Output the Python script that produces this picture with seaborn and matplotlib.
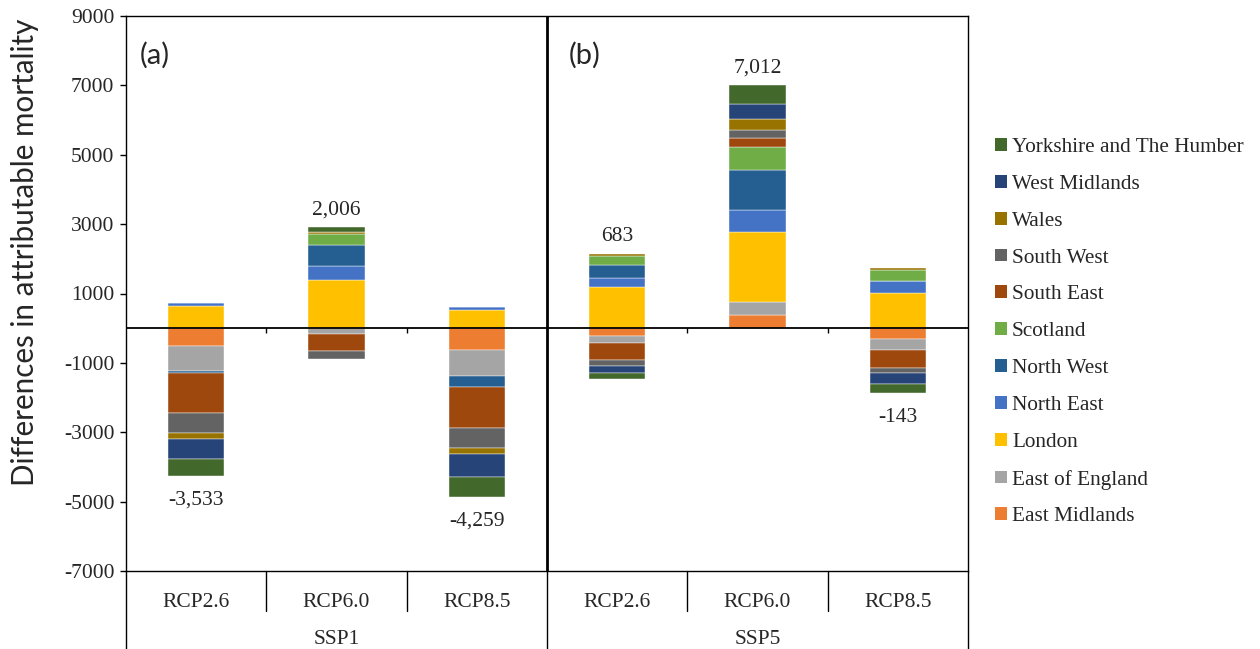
import numpy as np
import pandas as pd
import matplotlib
matplotlib.use("Agg")
import matplotlib.pyplot as plt
import matplotlib.transforms as mtransforms
from matplotlib.patches import Patch
import seaborn as sns

# Scenario combinations (SSP x RCP) shown along the category axis
ssps = ["SSP1", "SSP5"]
rcps = ["RCP2.6", "RCP6.0", "RCP8.5"]
scenarios = [f"{s} {r}" for s in ssps for r in rcps]

# Regions in stacking order (first series sits next to the zero line)
regions = [
    "East Midlands", "East of England", "London", "North East", "North West",
    "Scotland", "South East", "South West", "Wales", "West Midlands",
    "Yorkshire and The Humber",
]
colors = [
    "#ED7D31", "#A5A5A5", "#FFC000", "#4472C4", "#255E91",
    "#70AD47", "#9E480E", "#636363", "#997300", "#264478", "#43682B",
]

# Differences in attributable mortality per region, one value per scenario
east_midlands   = [-500,    0, -617, -212,  376, -318]
east_of_england = [-722, -173, -751, -222,  385, -297]
london          = [ 635, 1400,  510, 1175, 2022, 1021]
north_east      = [  80,  390,   96,  270,  617,  337]
north_west      = [ -70,  617, -327,  366, 1156,    0]
scotland        = [   0,  320,    0,  260,  655,  318]
south_east      = [-1140, -482, -1175, -482, 270, -520]
south_west      = [-598, -246, -588, -173,  231, -154]
wales           = [-155,   60, -173,   67,  318,   48]
west_midlands   = [-582,    0, -665, -212,  443, -308]
yorkshire       = [-481,  120, -569, -154,  539, -270]

series = [east_midlands, east_of_england, london, north_east, north_west,
          scotland, south_east, south_west, wales, west_midlands, yorkshire]

sns.set_style("ticks")
plt.rcParams["font.family"] = ["Liberation Serif", "DejaVu Serif"]
plt.rcParams["axes.unicode_minus"] = False

W, H = 1260, 649
fig = plt.figure(figsize=(W / 100, H / 100), dpi=100)
left, right, top, bottom = 126, 968, 16, 571
ax = fig.add_axes([left / W, 1 - bottom / H, (right - left) / W, (bottom - top) / H])

pos_base = np.zeros(len(scenarios))
neg_base = np.zeros(len(scenarios))
for name, vals, col in zip(regions, series, colors):
    vals = np.asarray(vals, dtype=float)
    base = np.where(vals >= 0, pos_base, neg_base)
    df = pd.DataFrame({"scenario": scenarios, "value": vals})
    sns.barplot(data=df, x="scenario", y="value", order=scenarios,
                color=col, saturation=1, width=0.4, errorbar=None,
                bottom=base, edgecolor="white", linewidth=0.3, ax=ax)
    pos_base += np.clip(vals, 0, None)
    neg_base += np.clip(vals, None, 0)

totals = np.sum(np.array(series), axis=0).astype(int)

ax.set_ylim(-7000, 9000)
ax.set_xlim(-0.5, len(scenarios) - 0.5)
ax.set_yticks(np.arange(-7000, 9001, 2000))
ax.tick_params(axis="y", direction="out", length=4.3, width=1, labelsize=15.5,
               color="black", pad=4)
ax.tick_params(axis="x", length=0, labelbottom=False)
ax.set_xlabel("")
ax.set_ylabel("")
for sp in ax.spines.values():
    sp.set_visible(True)
    sp.set_color("black")
    sp.set_linewidth(1.0)

# zero line, panel divider and small category ticks on the zero line
ax.axhline(0, color="black", lw=1.3, zorder=5)
ax.axvline(2.5, color="black", lw=2.0, zorder=6)
ax.vlines([0.5, 1.5, 3.5, 4.5], -150, 0, color="black", lw=1.0, zorder=5)

# total labels at the end of each bar
for i, t in enumerate(totals):
    if t >= 0:
        ax.annotate(f"{t:,}", (i, pos_base[i]), xytext=(0, 12.5),
                    textcoords="offset points", ha="center", va="center",
                    fontsize=15.5)
    else:
        ax.annotate(f"{t:,}", (i, neg_base[i]), xytext=(0, -17.5),
                    textcoords="offset points", ha="center", va="center",
                    fontsize=15.5)

# panel letters
ax.text(0.0344, 0.93, "(a)", transform=ax.transAxes, ha="center", va="center",
        fontsize=21, family=["Lato", "DejaVu Sans"])
ax.text(0.545, 0.93, "(b)", transform=ax.transAxes, ha="center", va="center",
        fontsize=21, family=["Lato", "DejaVu Sans"])

# two-level category axis
trans = mtransforms.blended_transform_factory(ax.transData, ax.transAxes)
y_short = (bottom - 611) / (bottom - top)
y_long = (bottom - H) / (bottom - top)
for xb in [-0.5, 2.5, 5.5]:
    ax.plot([xb, xb], [0, y_long], transform=trans, color="black", lw=1.0,
            clip_on=False)
for xb in [0.5, 1.5, 3.5, 4.5]:
    ax.plot([xb, xb], [0, y_short], transform=trans, color="black", lw=1.0,
            clip_on=False)
for i, sc in enumerate(scenarios):
    ax.text(i, (bottom - 607) / (bottom - top), sc.split()[1], transform=trans,
            ha="center", va="baseline", fontsize=15.5)
for j, s in enumerate(ssps):
    ax.text(3 * j + 1, (bottom - 644) / (bottom - top), s, transform=trans,
            ha="center", va="baseline", fontsize=15.5)

fig.text(25 / W, 1 - 252 / H, "Differences in attributable mortality",
         rotation=90, ha="center", va="center", fontsize=21.3,
         family=["Lato", "DejaVu Sans"])

handles = [Patch(facecolor=c, edgecolor="none") for c in colors][::-1]
fig.legend(handles, regions[::-1], loc="upper left",
           bbox_to_anchor=(995 / W, 1 - 138 / H), frameon=False, fontsize=15.3,
           handlelength=0.55, handleheight=0.55, handletextpad=0.25,
           labelspacing=0.84, borderpad=0, borderaxespad=0)

fig.savefig("out.png", dpi=100)
